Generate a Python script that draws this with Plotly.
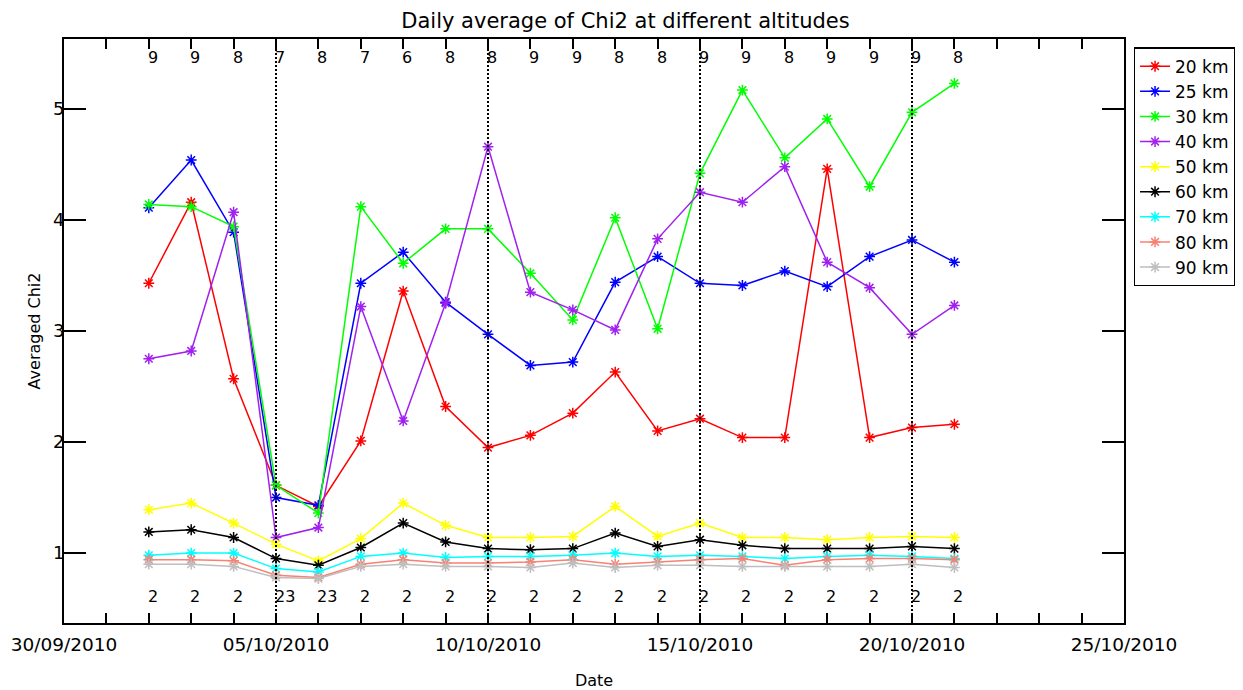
import plotly.graph_objects as go

# Daily averaged Chi2 per altitude, 02/10/2010 .. 21/10/2010
DATES = ["2010-10-02", "2010-10-03", "2010-10-04", "2010-10-05", "2010-10-06",
         "2010-10-07", "2010-10-08", "2010-10-09", "2010-10-10", "2010-10-11",
         "2010-10-12", "2010-10-13", "2010-10-14", "2010-10-15", "2010-10-16",
         "2010-10-17", "2010-10-18", "2010-10-19", "2010-10-20", "2010-10-21"]

chi_20 = [3.43, 4.16, 2.57, 1.61, 1.42, 2.01, 3.36, 2.32, 1.95, 2.06,
          2.26, 2.63, 2.10, 2.21, 2.04, 2.04, 4.46, 2.04, 2.13, 2.16]
chi_25 = [4.11, 4.54, 3.89, 1.50, 1.43, 3.43, 3.71, 3.26, 2.97, 2.69,
          2.72, 3.44, 3.67, 3.43, 3.41, 3.54, 3.40, 3.67, 3.82, 3.62]
chi_30 = [4.14, 4.12, 3.94, 1.61, 1.36, 4.12, 3.61, 3.92, 3.92, 3.52,
          3.10, 4.02, 3.02, 4.42, 5.17, 4.56, 4.91, 4.30, 4.97, 5.23]
chi_40 = [2.75, 2.82, 4.07, 1.14, 1.23, 3.22, 2.19, 3.25, 4.66, 3.35,
          3.19, 3.01, 3.83, 4.25, 4.16, 4.48, 3.62, 3.39, 2.97, 3.23]
chi_50 = [1.39, 1.45, 1.27, 1.08, 0.93, 1.13, 1.45, 1.25, 1.14, 1.14,
          1.15, 1.42, 1.15, 1.27, 1.14, 1.14, 1.12, 1.14, 1.15, 1.14]
chi_60 = [1.19, 1.21, 1.14, 0.95, 0.89, 1.05, 1.27, 1.10, 1.04, 1.03,
          1.04, 1.18, 1.06, 1.12, 1.07, 1.04, 1.04, 1.04, 1.06, 1.04]
chi_70 = [0.98, 1.00, 1.00, 0.86, 0.83, 0.97, 1.00, 0.96, 0.97, 0.97,
          0.98, 1.00, 0.97, 0.98, 0.97, 0.95, 0.97, 0.98, 0.97, 0.95]
chi_80 = [0.94, 0.94, 0.93, 0.80, 0.78, 0.90, 0.94, 0.91, 0.91, 0.92,
          0.94, 0.90, 0.92, 0.94, 0.95, 0.89, 0.94, 0.95, 0.95, 0.94]
chi_90 = [0.90, 0.90, 0.88, 0.78, 0.77, 0.88, 0.90, 0.88, 0.88, 0.87,
          0.91, 0.87, 0.89, 0.89, 0.88, 0.88, 0.88, 0.88, 0.90, 0.87]

# number of files per day (top) and per-day count (bottom)
N_TOP = [9, 9, 8, 7, 8, 7, 6, 8, 8, 9, 9, 8, 8, 9, 9, 8, 9, 9, 9, 8]
N_BOTTOM = [2, 2, 2, 23, 23, 2, 2, 2, 2, 2, 2, 2, 2, 2, 2, 2, 2, 2, 2, 2]

VLINE_DATES = ["2010-10-05", "2010-10-10", "2010-10-15", "2010-10-20"]

SERIES = [
    ("20 km", chi_20, "#ff0000"),
    ("25 km", chi_25, "#0000ff"),
    ("30 km", chi_30, "#00ff00"),
    ("40 km", chi_40, "#a020f0"),
    ("50 km", chi_50, "#ffff00"),
    ("60 km", chi_60, "#000000"),
    ("70 km", chi_70, "#00ffff"),
    ("80 km", chi_80, "#fa8072"),
    ("90 km", chi_90, "#bebebe"),
]

FONT = "DejaVu Sans"
DAY_MS = 86400000

fig = go.Figure()
for name, vals, color in SERIES:
    fig.add_scatter(x=DATES, y=vals, name=name, mode="lines+markers",
                    line=dict(color=color, width=1.5),
                    marker=dict(symbol="asterisk-open", size=9,
                                line=dict(color=color, width=1.5)))

for d in VLINE_DATES:
    fig.add_shape(type="line", xref="x", yref="paper", x0=d, x1=d, y0=0, y1=1,
                  line=dict(color="black", width=2, dash="2px,2px"))

for d, n in zip(DATES, N_TOP):
    fig.add_annotation(x=d, y=0.969, xref="x", yref="paper", text=str(n),
                       showarrow=False, xanchor="left", yanchor="middle",
                       xshift=-3, font=dict(size=16, color="black"))
for d, n in zip(DATES, N_BOTTOM):
    fig.add_annotation(x=d, y=0.046, xref="x", yref="paper", text=str(n),
                       showarrow=False, xanchor="left", yanchor="middle",
                       xshift=-3, font=dict(size=16, color="black"))

# the page body adds an 8 px offset, so the figure is 8 px smaller each way
fig.update_layout(
    width=1235, height=682,
    paper_bgcolor="white", plot_bgcolor="white",
    font=dict(family=FONT, color="black", size=16),
    margin=dict(l=56, r=119, t=31, b=67, autoexpand=False),
    title=dict(text="Daily average of Chi2 at different altitudes",
               x=0.5, xanchor="center", y=0.982, yanchor="middle",
               font=dict(size=21)),
    legend=dict(x=1.009, y=0.986, xanchor="left", yanchor="top",
                bordercolor="black", borderwidth=1.5, bgcolor="white",
                font=dict(size=17), tracegroupgap=0, itemwidth=30),
    showlegend=True,
)
fig.update_xaxes(
    range=["2010-09-30", "2010-10-25"], type="date", automargin=False,
    tick0="2010-09-30", dtick=5 * DAY_MS, tickformat="%d/%m/%Y",
    ticks="inside", ticklen=10, tickwidth=1.5, tickcolor="black",
    minor=dict(dtick=DAY_MS, ticks="inside", ticklen=10, tickwidth=1.5,
               tickcolor="black", showgrid=False),
    showline=True, linecolor="black", linewidth=2, mirror="ticks",
    showgrid=False, zeroline=False, tickfont=dict(size=18.5),
    ticklabelstandoff=4,
    title=dict(text="Date", font=dict(size=16), standoff=27),
)
fig.update_yaxes(
    range=[0.37, 5.63], tick0=1, dtick=1, automargin=False,
    ticks="inside", ticklen=22, tickwidth=1.5, tickcolor="black",
    showline=True, linecolor="black", linewidth=2, mirror="ticks",
    showgrid=False, zeroline=False, tickfont=dict(size=18),
    ticklabelstandoff=-6,
    title=dict(text="Averaged Chi2", font=dict(size=16), standoff=8),
)

fig.write_html("out.html")
